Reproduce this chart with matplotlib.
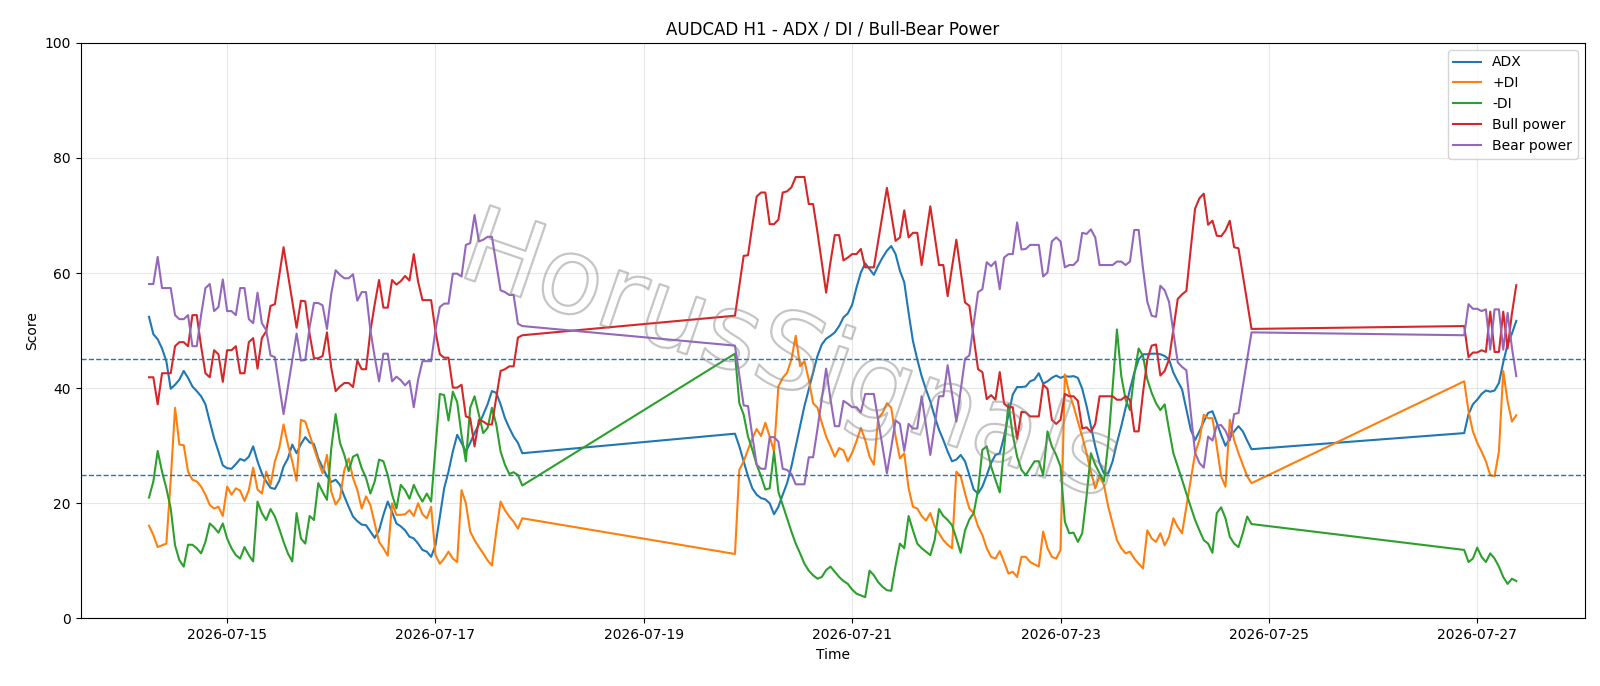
import matplotlib
matplotlib.use("Agg")
import matplotlib.pyplot as plt
import matplotlib.dates as mdates
import matplotlib.patheffects as pe
import pandas as pd

# ---- time axis (hourly bars, three trading segments) ----
seg_bounds = [("2026-07-14 06:00", "2026-07-17 20:00"),
              ("2026-07-19 21:00", "2026-07-24 20:00"),
              ("2026-07-26 21:00", "2026-07-27 09:00")]

# ---- series values ----
adx_1 = [52.4, 49.4, 48.5, 46.9, 44.7, 39.9, 40.6, 41.5, 43.0, 41.8,
         40.3, 39.5, 38.6, 37.2, 34.2, 31.3, 29.0, 26.6, 26.1, 26.0,
         26.8, 27.7, 27.4, 28.1, 29.9, 27.3, 25.2, 23.8, 22.7, 22.5,
         23.9, 26.4, 27.8, 30.2, 28.7, 30.3, 31.5, 30.6, 30.3, 27.8,
         26.2, 24.7, 23.7, 24.1, 23.2, 21.2, 19.4, 17.7, 16.9, 16.3,
         16.2, 15.1, 14.0, 15.3, 18.0, 20.3, 18.5, 16.5, 16.0, 15.3,
         14.2, 13.9, 13.0, 11.9, 11.6, 10.7, 12.7, 17.7, 22.6, 25.5,
         29.0, 31.9, 30.5, 29.0, 30.5, 32.2, 33.7, 35.4, 37.2, 39.5,
         39.2, 37.2, 34.8, 33.1, 31.6, 30.5, 28.7]
adx_2 = [32.1, 29.9, 27.3, 24.7, 22.6, 21.5, 20.9, 20.7, 20.0, 18.1,
         19.4, 21.5, 23.5, 26.4, 29.9, 33.4, 36.9, 39.8, 42.7, 45.6,
         47.6, 48.6, 49.1, 49.7, 50.8, 52.3, 53.0, 54.5, 57.5, 60.1,
         61.7, 60.7, 59.7, 61.3, 62.7, 63.9, 64.7, 63.3, 60.4, 58.4,
         53.1, 48.2, 45.0, 42.1, 39.8, 37.7, 35.1, 32.8, 31.0, 29.0,
         27.3, 27.6, 28.4, 27.3, 24.9, 22.4, 21.7, 22.9, 24.9, 27.0,
         28.4, 28.7, 31.6, 35.4, 38.9, 40.2, 40.2, 40.3, 41.2, 41.5,
         42.6, 40.8, 41.2, 41.8, 42.2, 41.8, 42.1, 42.0, 42.1, 41.8,
         39.9, 36.9, 33.4, 29.9, 27.0, 25.2, 25.2, 27.3, 30.5, 33.4,
         36.6, 39.8, 42.7, 45.0, 45.9, 45.9, 46.0, 46.0, 45.9, 45.6,
         45.0, 42.7, 41.2, 39.8, 36.3, 32.8, 31.0, 32.5, 34.2, 35.7,
         36.0, 34.0, 31.9, 30.0, 31.3, 32.5, 33.4, 32.5, 30.9, 29.4]
adx_3 = [32.2, 35.5, 37.2, 38.0, 39.0, 39.6, 39.4, 39.6, 40.9, 44.5, 47.6, 49.5, 51.7]

pdi_1 = [16.1, 14.5, 12.4, 12.7, 13.0, 24.0, 36.6, 30.2, 30.1, 25.5,
         24.1, 23.8, 22.9, 21.5, 19.7, 19.1, 19.4, 17.8, 22.9, 21.5,
         22.6, 22.2, 20.4, 22.3, 26.2, 22.4, 21.7, 25.5, 23.2, 27.3,
         29.6, 33.7, 30.2, 27.3, 23.9, 34.5, 34.2, 31.9, 29.6, 27.3,
         25.2, 28.4, 22.0, 19.8, 20.9, 25.8, 27.8, 24.4, 22.3, 19.1,
         21.2, 19.7, 16.5, 13.3, 12.2, 10.9, 20.0, 18.0, 18.0, 18.1,
         18.8, 17.8, 20.0, 18.1, 17.4, 19.4, 11.0, 9.5, 10.4, 11.6,
         10.4, 9.8, 22.3, 20.0, 15.1, 13.6, 12.4, 11.3, 10.1, 9.2,
         15.1, 20.3, 18.8, 17.7, 16.8, 15.6, 17.4]
pdi_2 = [11.2, 25.8, 27.3, 29.3, 31.3, 32.9, 31.7, 34.0, 31.6, 29.0,
         40.3, 41.8, 42.7, 45.0, 49.1, 43.8, 44.7, 41.5, 37.4, 36.6,
         34.0, 31.6, 29.9, 28.1, 29.6, 29.2, 27.3, 28.8, 30.8, 33.1,
         31.0, 28.1, 26.7, 34.8, 35.7, 37.4, 36.6, 31.6, 27.8, 28.7,
         22.6, 19.4, 19.1, 17.8, 17.0, 18.3, 16.0, 14.8, 13.6, 12.8,
         12.2, 25.5, 24.7, 21.7, 19.1, 18.3, 16.0, 14.5, 12.2, 10.7,
         10.4, 11.7, 9.8, 7.8, 8.1, 7.2, 10.7, 10.7, 9.8, 9.4,
         9.0, 15.1, 12.2, 10.7, 10.4, 11.9, 42.4, 39.2, 36.9, 34.2,
         31.6, 28.7, 25.5, 22.6, 24.7, 23.2, 19.4, 16.5, 13.6, 12.2,
         11.3, 11.6, 10.4, 9.5, 8.7, 15.3, 13.9, 13.3, 14.8, 12.7,
         14.2, 17.4, 15.9, 14.8, 19.4, 24.1, 28.7, 31.0, 35.4, 34.8,
         34.8, 29.9, 24.7, 22.9, 34.5, 31.0, 28.7, 26.7, 24.7, 23.5]
pdi_3 = [41.2, 36.0, 32.5, 30.5, 29.0, 27.3, 24.9, 24.7, 29.0, 43.0, 37.7, 34.2, 35.3]

mdi_1 = [21.0, 23.8, 29.1, 25.5, 22.6, 19.1, 12.7, 10.1, 9.0, 12.8,
         12.8, 12.2, 11.3, 13.3, 16.5, 15.8, 14.9, 16.5, 13.9, 12.2,
         11.0, 10.4, 12.4, 11.0, 9.9, 20.3, 18.3, 17.1, 19.0, 17.7,
         15.6, 13.3, 11.3, 9.9, 18.3, 13.9, 13.0, 17.8, 17.1, 23.5,
         22.0, 20.6, 29.6, 35.5, 30.5, 28.4, 25.6, 28.1, 28.5, 26.1,
         24.4, 21.7, 23.8, 27.6, 27.3, 24.9, 21.5, 19.1, 23.2, 22.3,
         20.8, 23.2, 21.6, 20.3, 21.7, 20.3, 29.6, 39.0, 38.8, 34.4,
         39.4, 37.6, 31.9, 27.3, 36.6, 38.6, 35.4, 32.2, 33.1, 36.6,
         33.7, 29.0, 26.7, 25.1, 25.4, 24.9, 23.1]
mdi_2 = [46.0, 37.4, 35.4, 31.6, 29.3, 26.7, 24.7, 22.4, 22.6, 29.0,
         22.0, 19.7, 17.4, 15.1, 13.0, 11.3, 9.5, 8.3, 7.5, 6.9,
         7.2, 8.4, 9.0, 8.1, 7.2, 6.5, 6.0, 5.0, 4.3, 4.0,
         3.7, 8.3, 7.5, 6.3, 5.5, 4.9, 4.8, 9.2, 13.0, 12.2,
         17.8, 15.3, 13.0, 12.2, 11.6, 11.0, 13.6, 19.0, 17.8, 17.1,
         16.2, 13.9, 11.4, 15.3, 17.2, 18.3, 22.3, 29.3, 29.9, 26.4,
         24.1, 21.9, 29.6, 37.2, 31.9, 28.1, 25.8, 24.9, 26.1, 27.3,
         27.3, 24.9, 32.5, 29.9, 28.4, 26.4, 16.8, 14.8, 14.9, 13.3,
         14.8, 21.2, 28.7, 26.7, 25.2, 23.8, 30.5, 40.0, 50.2, 42.1,
         38.0, 36.2, 42.4, 46.9, 45.6, 41.5, 39.2, 37.4, 36.2, 37.2,
         32.8, 28.7, 26.4, 24.1, 21.7, 19.4, 17.1, 15.3, 13.6, 13.0,
         11.4, 18.3, 19.3, 17.4, 14.2, 13.0, 12.4, 14.8, 17.7, 16.4]
mdi_3 = [11.9, 9.8, 10.4, 12.3, 10.7, 9.8, 11.3, 10.4, 9.0, 7.2, 6.0, 6.9, 6.5]

bull_1 = [41.9, 41.9, 37.2, 42.6, 42.6, 42.6, 47.3, 48.0, 48.0, 47.3,
          52.7, 52.7, 47.3, 42.6, 41.9, 46.6, 45.9, 41.1, 46.6, 46.6,
          47.3, 42.6, 42.6, 48.0, 48.7, 43.4, 48.7, 49.9, 54.3, 54.6,
          59.5, 64.5, 59.8, 55.2, 50.5, 55.2, 55.1, 49.4, 45.2, 45.2,
          45.6, 49.7, 43.5, 39.5, 40.3, 40.9, 40.9, 40.2, 44.8, 43.3,
          43.3, 49.9, 54.6, 58.8, 54.0, 54.0, 58.8, 58.0, 58.6, 59.5,
          58.7, 63.3, 58.5, 55.3, 55.3, 55.3, 49.9, 45.9, 45.3, 45.3,
          40.1, 40.1, 40.6, 35.1, 34.8, 29.9, 34.5, 34.2, 33.7, 33.7,
          38.3, 43.0, 43.3, 43.8, 43.8, 48.8, 49.2]
bull_2 = [52.6, 57.8, 63.0, 63.1, 68.3, 73.3, 74.0, 74.0, 68.5, 68.5,
          69.3, 74.0, 74.2, 74.9, 76.7, 76.7, 76.7, 72.0, 72.0, 67.1,
          61.9, 56.6, 61.9, 66.6, 66.6, 62.2, 62.7, 63.3, 63.3, 64.2,
          61.0, 61.0, 61.0, 65.6, 70.3, 74.8, 70.3, 65.6, 66.2, 70.9,
          66.2, 67.0, 67.0, 61.4, 66.5, 71.6, 66.5, 61.4, 61.4, 56.0,
          61.0, 65.8, 60.4, 54.9, 54.3, 48.8, 43.3, 42.8, 38.1, 38.8,
          38.0, 42.8, 37.3, 36.7, 36.7, 31.2, 35.9, 35.8, 35.1, 35.1,
          35.1, 40.6, 39.9, 34.5, 33.8, 34.5, 39.0, 38.6, 38.6, 37.8,
          33.0, 33.2, 32.4, 33.8, 38.6, 38.6, 38.6, 38.6, 38.0, 38.0,
          38.6, 38.0, 32.5, 32.5, 39.2, 45.0, 47.4, 47.6, 42.2, 43.0,
          45.0, 50.2, 55.5, 56.3, 56.9, 64.2, 71.2, 73.0, 73.8, 68.4,
          69.1, 66.5, 66.4, 67.4, 69.1, 64.5, 64.3, 59.7, 55.0, 50.3]
bull_3 = [50.8, 45.4, 46.2, 46.2, 46.6, 46.3, 53.3, 46.3, 46.3, 53.3, 46.9, 53.0, 57.9]

bear_1 = [58.1, 58.1, 62.8, 57.4, 57.4, 57.4, 52.7, 52.0, 52.0, 52.7,
          47.3, 47.3, 52.7, 57.4, 58.1, 53.4, 54.1, 58.9, 53.4, 53.4,
          52.7, 57.4, 57.4, 52.0, 51.3, 56.6, 51.3, 50.1, 45.7, 45.4,
          40.5, 35.5, 40.2, 44.8, 49.5, 44.8, 44.9, 50.6, 54.8, 54.8,
          54.4, 50.3, 56.5, 60.5, 59.7, 59.1, 59.1, 59.8, 55.2, 56.7,
          56.7, 50.1, 45.4, 41.2, 46.0, 46.0, 41.2, 42.0, 41.4, 40.5,
          41.3, 36.7, 41.5, 44.7, 44.7, 44.7, 50.1, 54.1, 54.7, 54.7,
          59.9, 59.9, 59.4, 64.9, 65.2, 70.1, 65.5, 65.8, 66.3, 66.3,
          61.7, 57.0, 56.7, 56.2, 56.2, 51.2, 50.8]
bear_2 = [47.4, 42.2, 37.0, 36.9, 31.7, 26.7, 26.0, 26.0, 31.5, 31.5,
          30.7, 26.0, 25.8, 25.1, 23.3, 23.3, 23.3, 28.0, 28.0, 32.9,
          38.1, 43.4, 38.1, 33.4, 33.4, 37.8, 37.3, 36.7, 36.7, 35.8,
          39.0, 39.0, 39.0, 34.4, 29.7, 25.2, 29.7, 34.4, 33.8, 29.1,
          33.8, 33.0, 33.0, 38.6, 33.5, 28.4, 33.5, 38.6, 38.6, 44.0,
          39.0, 34.2, 39.6, 45.1, 45.7, 51.2, 56.7, 57.2, 61.9, 61.2,
          62.0, 57.2, 62.7, 63.3, 63.3, 68.8, 64.1, 64.2, 64.9, 64.9,
          64.9, 59.4, 60.1, 65.5, 66.2, 65.5, 61.0, 61.4, 61.4, 62.2,
          67.0, 66.8, 67.6, 66.2, 61.4, 61.4, 61.4, 61.4, 62.0, 62.0,
          61.4, 62.0, 67.5, 67.5, 60.8, 55.0, 52.6, 52.4, 57.8, 57.0,
          55.0, 49.8, 44.5, 43.7, 43.1, 35.8, 28.8, 27.0, 26.2, 31.6,
          30.9, 33.5, 33.6, 32.6, 30.9, 35.5, 35.7, 40.3, 45.0, 49.7]
bear_3 = [49.2, 54.6, 53.8, 53.8, 53.4, 53.7, 46.7, 53.7, 53.7, 46.7, 53.1, 47.0, 42.1]

levels = [45, 25]
title = "AUDCAD H1 - ADX / DI / Bull-Bear Power"
watermark = "HorusSignals"

# ---- build ----
times = pd.DatetimeIndex([])
for a, b in seg_bounds:
    times = times.append(pd.date_range(a, b, freq="h"))

series = [
    ("ADX", adx_1 + adx_2 + adx_3, "C0"),
    ("+DI", pdi_1 + pdi_2 + pdi_3, "C1"),
    ("-DI", mdi_1 + mdi_2 + mdi_3, "C2"),
    ("Bull power", bull_1 + bull_2 + bull_3, "C3"),
    ("Bear power", bear_1 + bear_2 + bear_3, "C4"),
]

fig = plt.figure(figsize=(16, 6.86), dpi=100)
ax = fig.add_axes([0.0504, 0.0985, 0.940, 0.839])

for name, vals, col in series:
    n = min(len(vals), len(times))
    ax.plot(times[:n], vals[:n], color=col, lw=1.5, label=name)

for lv in levels:
    ax.axhline(lv, color="C0", ls="--", lw=1.0)

ax.set_ylim(0, 100)
ax.grid(True, alpha=0.3)
ax.xaxis.set_major_locator(mdates.DayLocator(bymonthday=list(range(1, 32, 2))))
ax.xaxis.set_major_formatter(mdates.DateFormatter("%Y-%m-%d"))
ax.set_title(title)
ax.set_xlabel("Time")
ax.set_ylabel("Score")
ax.legend(loc="upper right")

fig.text(0.494, 0.476, watermark, fontsize=76, rotation=-19,
         ha="center", va="center", color=(1, 1, 1, 0), zorder=5,
         path_effects=[pe.Stroke(linewidth=1.6, foreground=(0.5, 0.5, 0.5, 0.45))])

fig.savefig("out.png", dpi=100)
